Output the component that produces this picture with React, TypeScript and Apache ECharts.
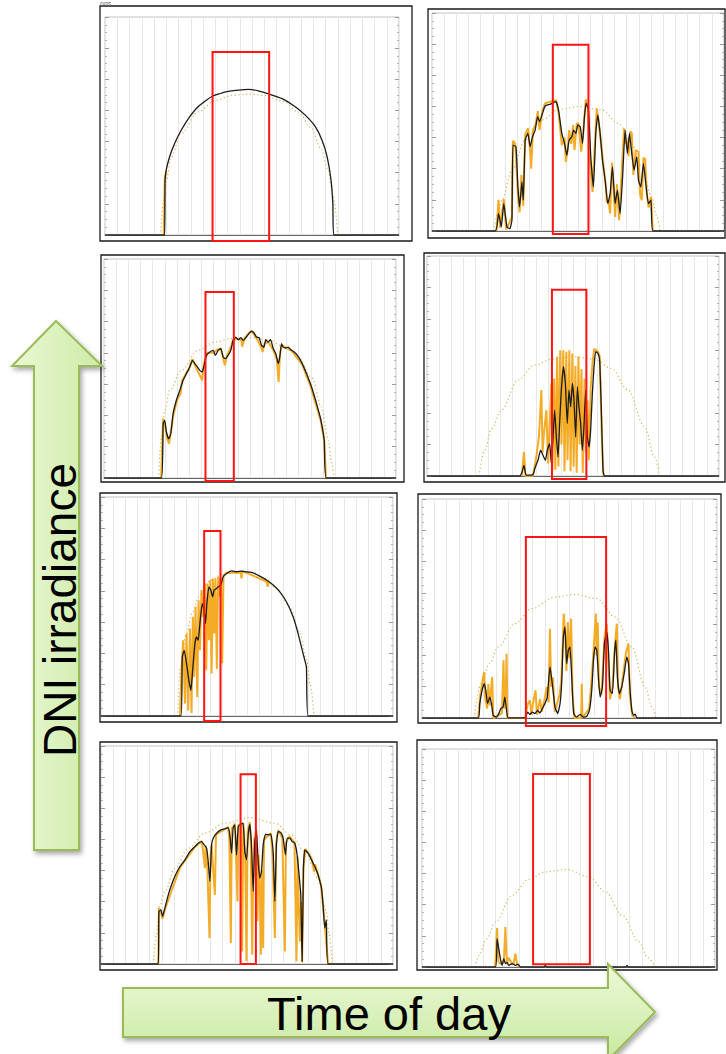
import React, { useEffect, useRef } from "react";
import * as echarts from "echarts";

// ---------- DATA (hour of day, DNI W/m²) ----------
const p1Clear = [[4.54,0],[4.75,200],[5.0,350],[5.4,500],[6.2,650],[7.6,790],[9,866],[10.5,898],[11.7,905],[13,896],[14.5,860],[15.8,790],[16.8,690],[17.6,560],[18.2,420],[18.6,260],[19.0,0]];
const p1Black = [[0,0],[4.87,0],[4.9,354],[5.0,418],[5.28,504],[5.69,589],[6.23,674],[6.92,760],[7.6,824],[8.69,888],[9.79,918],[10.88,930],[11.7,935],[12.52,926],[13.4,905],[14.43,877],[15.53,824],[16.35,770],[17.17,696],[17.71,610],[18.13,504],[18.45,354],[18.6,200],[18.67,0],[24,0]];
const p1Orange = [[4.8,0],[4.88,350],[5.0,410]];

const p2Clear = [[5.07,0],[5.4,110],[5.75,198],[6.57,391],[7.66,584],[9.03,713],[10.4,781],[12.18,799],[13.96,777],[15.33,691],[16.42,562],[17.24,412],[18.06,219],[18.45,100],[18.75,0]];
const p2Black = [[0,0],[5.2,0],[5.47,112],[5.7,26],[5.9,176],[6.16,26],[6.4,15],[6.57,69],[6.65,552],[6.9,541],[7.06,283],[7.2,155],[7.39,316],[7.5,198],[7.66,584],[7.88,627],[8.07,541],[8.26,605],[8.48,648],[8.68,734],[8.84,702],[9.08,756],[9.3,803],[9.71,814],[10.18,831],[10.4,777],[10.67,627],[10.89,563],[11.08,487],[11.27,584],[11.49,605],[11.63,648],[11.82,627],[11.99,681],[12.18,670],[12.37,563],[12.53,734],[12.67,820],[12.86,777],[13.05,477],[13.27,283],[13.46,627],[13.63,745],[13.82,627],[14.01,455],[14.23,326],[14.45,176],[14.64,240],[14.83,412],[15.05,176],[15.24,262],[15.46,112],[15.68,369],[15.87,648],[16.06,498],[16.23,627],[16.42,498],[16.61,391],[16.83,477],[16.97,326],[17.16,283],[17.38,434],[17.57,305],[17.79,176],[18.0,198],[18.17,0],[24,0]];
const p2Orange = [[5.3,0],[5.47,200],[5.6,20],[5.9,205],[6.1,10],[6.57,90],[6.65,580],[6.85,560],[7.05,250],[7.2,120],[7.35,360],[7.5,160],[7.66,620],[7.9,660],[8.1,480],[8.15,400],[8.3,650],[8.5,680],[8.7,770],[8.84,650],[9.1,780],[9.3,820],[10.2,840],[10.4,760],[10.67,552],[10.9,600],[11.0,444],[11.15,520],[11.27,648],[11.45,560],[11.6,680],[11.71,520],[11.9,690],[12.04,691],[12.26,509],[12.4,600],[12.64,846],[12.8,800],[13.0,430],[13.2,250],[13.3,430],[13.54,788],[13.7,700],[13.9,560],[14.1,420],[14.3,280],[14.37,183],[14.5,200],[14.64,112],[14.8,440],[15.05,90],[15.2,300],[15.38,69],[15.6,400],[15.79,659],[15.9,560],[16.01,584],[16.15,480],[16.3,640],[16.42,627],[16.55,360],[16.75,520],[16.97,509],[17.1,240],[17.24,198],[17.38,470],[17.52,462],[17.65,250],[17.8,150],[18.0,220],[18.15,0]];

const p3Clear = [[4.5,0],[4.7,250],[5.0,430],[5.4,560],[6.36,688],[7.73,816],[9.1,869],[10.48,891],[11.99,897],[13.49,884],[14.87,837],[15.96,773],[17.06,646],[17.88,454],[18.43,241],[18.7,100],[18.9,0]];
const p3Black = [[0,0],[4.72,0],[4.86,347],[4.99,369],[5.13,294],[5.32,251],[5.49,283],[5.68,411],[5.95,497],[6.23,560],[6.5,624],[6.77,667],[7.05,710],[7.27,752],[7.46,731],[7.68,710],[7.87,688],[8.07,678],[8.23,720],[8.42,784],[8.7,806],[8.97,816],[9.16,784],[9.38,816],[9.6,827],[9.79,774],[9.98,763],[10.2,784],[10.42,816],[10.61,880],[10.83,901],[11.03,884],[11.25,897],[11.44,880],[11.66,897],[11.9,923],[12.12,938],[12.34,927],[12.53,901],[12.75,897],[12.95,848],[13.14,837],[13.3,884],[13.49,869],[13.69,884],[13.91,827],[14.12,795],[14.32,731],[14.45,774],[14.59,859],[14.73,837],[14.92,831],[15.14,837],[15.36,820],[15.63,806],[15.96,778],[16.29,731],[16.65,667],[17.06,582],[17.47,475],[17.83,369],[18.1,241],[18.27,0],[24,0]];
const p3Orange = [[4.7,0],[4.86,380],[5.0,340],[5.2,250],[5.35,220],[5.5,300],[5.7,400],[6.0,500],[6.3,540],[6.4,620],[7.0,700],[7.27,760],[7.6,700],[8.07,624],[8.2,730],[8.5,800],[9.0,800],[9.3,820],[9.6,830],[9.93,720],[10.1,780],[10.5,850],[10.6,880],[11.0,890],[11.3,880],[11.35,840],[11.6,900],[12.1,940],[12.5,900],[12.95,830],[13.03,806],[13.2,860],[13.5,870],[13.9,820],[14.2,760],[14.35,614],[14.45,780],[14.6,850],[15.0,830],[15.5,810],[15.65,790],[16.3,725],[17.0,580],[17.8,370],[18.1,240],[18.25,0]];

const p4Clear = [[4.27,0],[4.74,164],[5.3,300],[6.11,419],[7.48,611],[8.85,706],[10.22,743],[12.0,760],[13.78,743],[15.15,685],[16.52,547],[17.89,313],[18.71,121],[19.12,0]];
const p4Black = [[0,0],[7.6,0],[7.8,20],[7.97,68],[8.15,5],[8.71,10],[8.9,57],[9.12,100],[9.34,164],[9.53,132],[9.73,100],[9.89,164],[10.08,206],[10.22,79],[10.36,249],[10.49,419],[10.63,249],[10.77,121],[10.9,334],[11.04,547],[11.21,696],[11.37,589],[11.53,334],[11.67,547],[11.81,440],[11.95,589],[12.08,483],[12.22,249],[12.36,568],[12.49,440],[12.63,334],[12.77,164],[12.9,313],[13.04,547],[13.18,249],[13.32,185],[13.45,292],[13.59,526],[13.73,696],[13.86,792],[14.05,781],[14.19,738],[14.33,419],[14.47,36],[14.6,0],[24,0]];
const p4Orange = [[7.8,0],[7.97,153],[8.1,0],[8.7,0],[8.85,60],[9.0,130],[9.2,250],[9.4,547],[9.5,150],[9.6,260],[9.81,419],[9.95,80],[10.1,350],[10.22,589],[10.3,30],[10.45,620],[10.55,40],[10.7,760],[10.8,60],[10.95,800],[11.05,200],[11.2,800],[11.3,30],[11.45,790],[11.55,100],[11.7,800],[11.8,30],[11.95,780],[12.05,60],[12.2,700],[12.3,20],[12.45,760],[12.55,200],[12.7,680],[12.8,20],[12.95,620],[13.05,150],[13.2,480],[13.3,100],[13.45,560],[13.6,720],[13.75,810],[13.9,800],[14.05,790],[14.2,760],[14.35,300],[14.5,0]];

const p5Clear = [[6.3,0],[6.5,300],[7.0,520],[7.5,660],[8.0,760],[8.5,830],[9.0,870],[10.0,905],[11.0,920],[11.8,922],[12.5,915],[13.5,880],[14.5,810],[15.5,700],[16.3,540],[16.9,360],[17.2,200],[17.5,0]];
const p5Black = [[0,0],[6.57,0],[6.68,378],[6.84,420],[7.03,335],[7.22,228],[7.39,164],[7.53,292],[7.72,463],[7.85,506],[7.99,484],[8.13,591],[8.32,719],[8.48,676],[8.59,591],[8.7,719],[8.87,826],[9.03,805],[9.17,762],[9.3,805],[9.5,815],[9.63,826],[9.85,837],[10.04,890],[10.32,911],[10.73,928],[11.14,922],[11.55,926],[11.96,922],[12.51,915],[13.05,894],[13.6,869],[14.15,837],[14.7,794],[15.24,730],[15.79,634],[16.2,527],[16.61,399],[16.88,314],[17.02,0],[24,0]];
const p5Orange = [[6.49,0],[6.62,300],[6.76,484],[6.9,79],[7.03,527],[7.17,36],[7.31,560],[7.44,20],[7.55,634],[7.66,250],[7.77,698],[7.91,122],[8.02,740],[8.13,420],[8.26,805],[8.4,634],[8.54,847],[8.65,292],[8.76,847],[8.87,484],[8.98,869],[9.09,271],[9.2,879],[9.3,527],[9.41,879],[9.52,300],[9.63,890],[9.74,762],[9.85,886],[9.96,335],[10.07,900],[10.32,915],[11.5,915],[11.55,880],[11.6,926],[13.6,860],[13.7,826],[13.8,860]];

const p6Clear = [[4.24,0],[4.84,230],[5.5,350],[6.2,454],[7.56,603],[8.92,699],[10.82,773],[12.45,790],[14.22,763],[15.71,646],[17.07,454],[18.16,198],[18.7,70],[19.03,0]];
const p6Black = [[0,0],[4.57,0],[4.7,92],[4.89,177],[5.06,219],[5.19,177],[5.33,92],[5.52,134],[5.65,92],[5.79,17],[6.06,6],[6.25,28],[6.41,60],[6.6,70],[6.74,134],[6.88,49],[7.01,0],[8.37,0],[8.59,38],[8.78,23],[8.97,38],[9.19,28],[9.4,49],[9.6,32],[9.79,60],[10.0,92],[10.19,134],[10.41,326],[10.6,219],[10.82,70],[11.04,28],[11.23,92],[11.36,219],[11.5,518],[11.63,582],[11.77,347],[11.9,433],[12.04,454],[12.18,262],[12.34,28],[12.58,6],[12.86,23],[13.13,6],[13.4,10],[13.62,49],[13.81,177],[13.95,369],[14.08,454],[14.22,433],[14.35,262],[14.49,134],[14.68,198],[14.84,475],[15.03,550],[15.17,433],[15.3,177],[15.49,156],[15.66,411],[15.77,497],[15.9,262],[16.06,156],[16.25,198],[16.47,294],[16.66,390],[16.8,347],[16.93,177],[17.07,49],[17.21,17],[17.35,25],[17.48,0],[24,0]];
const p6Orange = [[4.57,0],[4.75,150],[4.95,250],[5.06,294],[5.15,120],[5.3,60],[5.4,219],[5.5,80],[5.71,262],[5.8,0],[6.5,30],[6.63,369],[6.7,60],[6.8,150],[6.88,411],[6.95,0],[8.4,0],[8.6,90],[8.78,113],[8.9,20],[9.0,80],[9.24,177],[9.35,20],[9.6,120],[9.74,40],[10.0,130],[10.14,198],[10.3,100],[10.41,571],[10.5,200],[10.65,260],[10.8,40],[11.2,150],[11.35,260],[11.53,667],[11.65,540],[11.75,300],[11.86,614],[11.98,380],[12.13,635],[12.25,150],[12.4,0],[12.95,0],[13.0,219],[13.05,0],[13.6,60],[13.8,250],[13.95,420],[14.14,667],[14.2,400],[14.3,610],[14.4,200],[14.6,150],[14.85,520],[15.03,603],[15.15,380],[15.3,120],[15.5,200],[15.7,470],[15.85,603],[15.95,200],[16.1,120],[16.4,300],[16.6,420],[16.8,475],[16.9,150],[17.1,20],[17.3,0]];

const p7Clear = [[4.3,0],[4.55,190],[4.85,380],[5.25,466],[6.08,615],[7.17,744],[8.54,840],[10.18,904],[12.23,940],[14.29,904],[15.65,829],[16.75,722],[17.84,551],[18.53,338],[18.75,190],[19.0,0]];
const p7Black = [[0,0],[4.71,0],[4.76,338],[4.93,348],[5.06,306],[5.25,359],[5.53,444],[5.8,509],[6.13,573],[6.49,626],[6.9,669],[7.31,722],[7.72,754],[7.99,776],[8.27,786],[8.48,765],[8.68,744],[8.81,658],[8.95,530],[9.09,765],[9.22,808],[9.5,840],[9.85,861],[10.18,868],[10.45,876],[10.59,829],[10.73,712],[10.86,872],[11.0,893],[11.14,701],[11.28,883],[11.49,897],[11.68,904],[11.82,722],[11.96,669],[12.1,829],[12.23,897],[12.37,765],[12.51,466],[12.64,786],[12.78,850],[12.92,658],[13.05,551],[13.19,594],[13.33,765],[13.52,833],[13.74,829],[13.96,833],[14.15,722],[14.29,402],[14.42,765],[14.56,850],[14.78,844],[14.97,808],[15.16,701],[15.3,808],[15.52,808],[15.71,786],[15.93,776],[16.12,701],[16.28,573],[16.42,444],[16.53,17],[16.64,615],[16.75,733],[17.02,712],[17.3,669],[17.57,626],[17.84,573],[18.12,487],[18.25,380],[18.39,231],[18.52,284],[18.66,0],[24,0]];
const p7Orange = [[4.71,0],[4.76,360],[4.93,330],[5.06,290],[5.25,350],[6.5,620],[7.7,750],[8.27,790],[8.4,720],[8.54,615],[8.6,760],[8.75,600],[8.92,167],[9.0,700],[9.09,760],[9.36,444],[9.45,830],[10.45,880],[10.55,800],[10.67,135],[10.75,870],[11.0,900],[11.1,700],[11.22,402],[11.3,890],[11.5,900],[11.6,81],[11.7,905],[11.85,700],[11.96,17],[12.05,850],[12.23,910],[12.3,800],[12.43,60],[12.5,500],[12.6,800],[12.78,860],[12.86,274],[12.95,700],[13.05,540],[13.14,60],[13.25,600],[13.33,103],[13.4,800],[13.96,840],[14.1,700],[14.29,167],[14.4,780],[14.56,860],[14.9,810],[15.11,81],[15.2,780],[15.5,820],[15.9,780],[16.07,17],[16.15,690],[16.34,145],[16.45,400],[16.53,10],[16.64,620],[16.8,740],[17.3,680],[17.52,594],[17.6,640],[18.1,500],[18.4,250],[18.6,60],[18.68,0]];

const p8Clear = [[4.37,0],[4.65,75],[5.3,180],[6.01,289],[7.38,461],[8.75,564],[10.11,611],[11.89,626],[13.67,579],[15.04,482],[16.4,332],[17.77,161],[18.5,60],[19.08,0]];
const p8Black = [[0,0],[6.01,0],[6.15,182],[6.29,118],[6.42,54],[6.56,11],[6.7,54],[6.83,21],[6.97,30],[7.1,11],[7.38,21],[7.65,11],[7.87,19],[8.06,0],[10.0,0],[10.1,11],[10.2,0],[16.7,0],[16.8,11],[16.9,0],[24,0]];
const p8Orange = [[6.0,0],[6.15,251],[6.25,40],[6.4,20],[6.7,30],[6.83,257],[6.95,20],[7.1,60],[7.3,30],[7.5,20],[7.65,86],[7.8,10],[8.0,0]];

// highlighted time windows: [from h, to h, top W/m², bottom W/m²]
const redWindows = [
  [8.78, 13.4, 1176, -38],
  [9.93, 12.86, 1196, -19],
  [8.34, 10.67, 1189, -19],
  [10.27, 13.1, 1185, -19],
  [8.48, 9.82, 1182, -32],
  [8.45, 14.98, 1157, -51],
  [11.47, 12.73, 1218, 0],
  [9.1, 13.75, 1239, 17],
];

const clearSeries = [p1Clear, p2Clear, p3Clear, p4Clear, p5Clear, p6Clear, p7Clear, p8Clear];
const blackSeries = [p1Black, p2Black, p3Black, p4Black, p5Black, p6Black, p7Black, p8Black];
const orangeSeries = [p1Orange, p2Orange, p3Orange, p4Orange, p5Orange, p6Orange, p7Orange, p8Orange];

const yMax = 1400;
const yStep = 200;

// ---------- LAYOUT ----------
const plotBoxes = [
  [105, 17, 294, 218],
  [432, 13, 292, 218],
  [104, 259, 292, 219],
  [427, 256, 292, 220],
  [101, 497, 292, 219],
  [422, 499, 295, 219],
  [101, 746, 292, 218],
  [422, 749, 293, 218],
];
const frameBoxes = [
  [100, 6, 312, 235],
  [428, 9, 297, 229],
  [101, 255, 303, 227],
  [424, 253, 301, 229],
  [100, 493, 297, 229],
  [418, 494, 303, 229],
  [100, 742, 297, 228],
  [417, 740, 300, 230],
];

const FONT = "'Liberation Sans', Arial, Helvetica, sans-serif";

export default function App() {
  const ref = useRef<HTMLDivElement>(null);
  useEffect(() => {
    if (!ref.current) return;
    const chart = echarts.init(ref.current, null, { renderer: "svg", width: 726, height: 1054 });

    const grid: any[] = [];
    const xAxis: any[] = [];
    const yAxis: any[] = [];
    const series: any[] = [];
    plotBoxes.forEach((b, i) => {
      grid.push({ left: b[0], top: b[1], width: b[2], height: b[3], show: true, borderColor: "#c2c2c2", borderWidth: 1, backgroundColor: "#fff" });
      xAxis.push({
        type: "value", gridIndex: i, min: 0, max: 24, interval: 1,
        axisLabel: { show: false }, axisTick: { show: false },
        axisLine: { show: true, onZero: false, lineStyle: { color: "#666", width: 1 } },
        splitLine: { show: true, lineStyle: { color: "#e8e8e8", width: 1 } },
      });
      const yBase = {
        type: "value", gridIndex: i, min: 0, max: yMax, interval: yStep,
        axisLabel: { show: false },
        axisLine: { show: false },
        axisTick: { show: true, inside: true, length: 4, lineStyle: { color: "#9a9a9a" } },
        minorTick: { show: true, splitNumber: 4, length: 2, lineStyle: { color: "#b5b5b5" } },
        splitLine: { show: false },
      };
      yAxis.push({ ...yBase, position: "left" });
      yAxis.push({ ...yBase, position: "right" });
      series.push({
        type: "line", xAxisIndex: i, yAxisIndex: 2 * i, data: clearSeries[i],
        smooth: 0.35, smoothMonotone: "x", symbol: "none", silent: true, z: 2,
        lineStyle: { color: "#cfb55a", width: 1.2, type: [1.2, 2.6] },
      });
      series.push({
        type: "line", xAxisIndex: i, yAxisIndex: 2 * i, data: orangeSeries[i],
        symbol: "none", silent: true, z: 3,
        lineStyle: { color: "#f3a71a", width: 2, opacity: 0.95 },
      });
      series.push({
        type: "line", xAxisIndex: i, yAxisIndex: 2 * i, data: blackSeries[i],
        smooth: 0.15, symbol: "none", silent: true, z: 4,
        lineStyle: { color: "#1c1c1c", width: 1.3 },
      });
    });

    chart.setOption({ animation: false, backgroundColor: "#fff", grid, xAxis, yAxis, series });

    const graphics: any[] = [];
    frameBoxes.forEach((f) => {
      graphics.push({ type: "rect", shape: { x: f[0], y: f[1], width: f[2], height: f[3] }, style: { fill: "none", stroke: "#1a1a1a", lineWidth: 1.3 }, z: 40 });
    });
    redWindows.forEach((w, i) => {
      const a = chart.convertToPixel({ xAxisIndex: i, yAxisIndex: 2 * i } as any, [w[0], w[2]]) as number[];
      const b = chart.convertToPixel({ xAxisIndex: i, yAxisIndex: 2 * i } as any, [w[1], w[3]]) as number[];
      graphics.push({ type: "rect", shape: { x: a[0], y: a[1], width: b[0] - a[0], height: b[1] - a[1] }, style: { fill: "none", stroke: "#ff1414", lineWidth: 2 }, z: 60 });
    });
    const shadow = { shadowBlur: 5, shadowOffsetX: 2, shadowOffsetY: 3, shadowColor: "rgba(0,0,0,0.35)" };
    graphics.push({
      type: "polygon", z: 100,
      shape: { points: [[56, 321], [102, 366], [79, 366], [79, 850], [34, 850], [34, 366], [12, 366]] },
      style: {
        fill: new echarts.graphic.LinearGradient(0, 0, 1, 0, [{ offset: 0, color: "#e9f8d4" }, { offset: 1, color: "#cdeba6" }]),
        stroke: "#9bbb59", lineWidth: 2, ...shadow,
      },
    });
    graphics.push({
      type: "polygon", z: 100,
      shape: { points: [[123, 988], [608, 988], [608, 964], [655, 1012], [608, 1060], [608, 1037], [123, 1037]] },
      style: {
        fill: new echarts.graphic.LinearGradient(0, 0, 0, 1, [{ offset: 0, color: "#ecf9d8" }, { offset: 1, color: "#c8e9a0" }]),
        stroke: "#9bbb59", lineWidth: 2, ...shadow,
      },
    });
    graphics.push({
      type: "text", z: 101, x: 60, y: 610, rotation: Math.PI / 2,
      style: { text: "DNI irradiance", fontSize: 46, fontFamily: FONT, fill: "#000", align: "center", verticalAlign: "middle" },
    });
    graphics.push({
      type: "text", z: 101, x: 389, y: 1013,
      style: { text: "Time of day", fontSize: 47, fontFamily: FONT, fill: "#000", align: "center", verticalAlign: "middle" },
    });
    graphics.push({
      type: "text", z: 101, x: 100, y: 0,
      style: { text: "ons", fontSize: 7, fontFamily: FONT, fill: "#666", verticalAlign: "top" },
    });
    chart.setOption({ graphic: { elements: graphics } });

    return () => chart.dispose();
  }, []);
  return <div ref={ref} style={{ position: "absolute", left: 0, top: 0, width: 726, height: 1054 }} />;
}
